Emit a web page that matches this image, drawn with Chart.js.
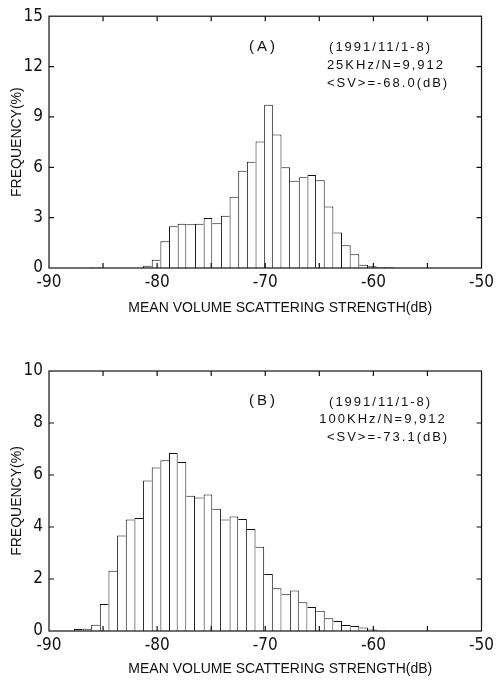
<!DOCTYPE html>
<html>
<head>
<meta charset="utf-8">
<script src="https://cdn.jsdelivr.net/npm/chart.js@4.4.1/dist/chart.umd.min.js"></script>
<style>
html, body { margin: 0; padding: 0; background: #fff; }
#wrap { position: relative; width: 498px; height: 681px; overflow: hidden; background: #fff; }
canvas { position: absolute; left: 0; }
#cA { top: 0; }
#cB { top: 330px; }
</style>
</head>
<body>
<div id="wrap">
  <canvas id="cA" width="498" height="330"></canvas>
  <canvas id="cB" width="498" height="351"></canvas>
</div>
<script>
// ---------- data ----------
// bin centres, dB (bins 0.8 dB wide)
const binsA = [-85.7, -84.9, -84.1, -83.3, -82.5, -81.7, -80.9, -80.1, -79.3, -78.5,
               -77.7, -76.9, -76.1, -75.3, -74.5, -73.7, -72.9, -72.1, -71.3, -70.5,
               -69.7, -68.9, -68.1, -67.3, -66.5, -65.7, -64.9, -64.1, -63.3, -62.5,
               -61.7, -60.9, -60.1, -59.3, -58.5, -57.7];
// frequency, % (25 kHz)
const freqA = [0.05, 0.02, 0.02, 0.02, 0.02, 0.02, 0.14, 0.49, 1.60, 2.48,
               2.63, 2.61, 2.63, 2.98, 2.67, 3.12, 4.25, 5.79, 6.33, 7.54,
               9.73, 7.95, 6.00, 5.20, 5.40, 5.54, 5.22, 3.66, 2.12, 1.36,
               0.82, 0.20, 0.10, 0.06, 0.04, 0.02];

const binsB = [-87.3, -86.5, -85.7, -84.9, -84.1, -83.3, -82.5, -81.7, -80.9, -80.1,
               -79.3, -78.5, -77.7, -76.9, -76.1, -75.3, -74.5, -73.7, -72.9, -72.1,
               -71.3, -70.5, -69.7, -68.9, -68.1, -67.3, -66.5, -65.7, -64.9, -64.1,
               -63.3, -62.5, -61.7, -60.9, -60.1, -59.3, -58.5];
// frequency, % (100 kHz)
const freqB = [0.08, 0.09, 0.24, 1.04, 2.32, 3.67, 4.29, 4.35, 5.79, 6.29,
               6.57, 6.85, 6.50, 5.20, 5.13, 5.25, 4.70, 4.29, 4.40, 4.31,
               3.92, 3.24, 2.19, 1.64, 1.41, 1.56, 1.11, 0.92, 0.78, 0.49,
               0.38, 0.23, 0.19, 0.13, 0.06, 0.02, 0.01];

const xTickLabels = [-90, -80, -70, -60, -50];
const xTickMarks  = [-85, -80, -75, -70, -65, -60, -55];
const yTicksA = [0, 3, 6, 9, 12, 15];
const yTicksB = [0, 2, 4, 6, 8, 10];

const panelA = '(A)';
const panelB = '(B)';
const notesA = ['(1991/11/1-8)', '25KHz/N=9,912', '<SV>=-68.0(dB)'];
const notesB = ['(1991/11/1-8)', '100KHz/N=9,912', '<SV>=-73.1(dB)'];
const xTitle = 'MEAN VOLUME SCATTERING STRENGTH(dB)';
const yTitle = 'FREQUENCY(%)';

// ---------- styling ----------
const INK = '#111';
const TICK_FONT = { family: "'Liberation Sans Narrow', 'DejaVu Sans Condensed', 'Liberation Sans', sans-serif", size: 17 };
const TEXT_FAMILY = "'Liberation Sans', Arial, sans-serif";

function edgeWidths(c) {
  const d = c.dataset.data;
  const i = c.dataIndex;
  const v = d[i].y;
  const prev = i > 0 ? d[i - 1].y : -1;
  const next = i < d.length - 1 ? d[i + 1].y : -1;
  return { top: 1, bottom: 0, left: prev <= v ? 1 : 0, right: next < v ? 1 : 0 };
}

const framePlugin = {
  id: 'frame',
  afterDatasetsDraw(chart, args, o) {
    const { ctx, chartArea: a, scales } = chart;
    ctx.save();
    ctx.strokeStyle = INK;
    ctx.lineWidth = 1.2;
    ctx.strokeRect(a.left, a.top, a.right - a.left, a.bottom - a.top);
    const L = 5;
    ctx.lineWidth = 1.2;
    ctx.beginPath();
    o.xMarks.forEach(v => {
      const px = scales.x.getPixelForValue(v);
      ctx.moveTo(px, a.bottom); ctx.lineTo(px, a.bottom - L);
      ctx.moveTo(px, a.top); ctx.lineTo(px, a.top + L);
    });
    o.yMarks.forEach(v => {
      const py = scales.y.getPixelForValue(v);
      ctx.moveTo(a.left, py); ctx.lineTo(a.left + L, py);
      ctx.moveTo(a.right, py); ctx.lineTo(a.right - L, py);
    });
    ctx.stroke();
    ctx.restore();
  },
  afterDraw(chart, args, o) {
    const { ctx, chartArea: a, scales } = chart;
    ctx.save();
    ctx.fillStyle = INK;
    ctx.textBaseline = 'middle';
    // panel label
    ctx.font = '15px ' + TEXT_FAMILY;
    ctx.letterSpacing = '3px';
    ctx.textAlign = 'center';
    ctx.fillText(o.panel, scales.x.getPixelForValue(o.panelX) + 1.5, a.top + o.panelDy);
    // note lines
    ctx.font = '13px ' + TEXT_FAMILY;
    ctx.letterSpacing = '2px';
    ctx.textAlign = 'left';
    o.notes.forEach((t, i) => {
      ctx.fillText(t, scales.x.getPixelForValue(o.noteX[i]), a.top + o.noteDy[i]);
    });
    // x axis title
    ctx.font = '14px ' + TEXT_FAMILY;
    ctx.letterSpacing = '0px';
    ctx.textAlign = 'center';
    ctx.fillText(xTitle, (a.left + a.right) / 2 + 15, a.bottom + o.titleDy);
    ctx.restore();
  }
};

function makeChart(id, bins, freq, yTicks, yMax, frameOpts, chartTop, chartBottom, canvasH) {
  const pts = bins.map((b, i) => ({ x: b, y: freq[i] }));
  return new Chart(document.getElementById(id), {
    type: 'bar',
    data: {
      datasets: [{
        data: pts,
        backgroundColor: '#fff',
        borderColor: INK,
        borderWidth: edgeWidths,
        borderSkipped: false,
        inflateAmount: 0,
        barPercentage: 1,
        categoryPercentage: 1
      }]
    },
    options: {
      responsive: false,
      animation: false,
      devicePixelRatio: 1,
      layout: { padding: { top: chartTop, right: 15, left: 0, bottom: 0 } },
      plugins: {
        legend: { display: false },
        tooltip: { enabled: false },
        frame: frameOpts
      },
      scales: {
        x: {
          type: 'linear',
          min: -90, max: -50,
          offset: false,
          grid: { display: false, drawTicks: false },
          border: { display: false },
          afterBuildTicks: s => { s.ticks = xTickLabels.map(v => ({ value: v })); },
          afterFit: s => { s.height = canvasH - chartBottom; },
          ticks: { color: INK, font: TICK_FONT, padding: 4, maxRotation: 0, autoSkip: false }
        },
        y: {
          min: 0, max: yMax,
          grid: { display: false, drawTicks: false },
          border: { display: false },
          afterBuildTicks: s => { s.ticks = yTicks.map(v => ({ value: v })); },
          afterFit: s => { s.width = 49; },
          ticks: { color: INK, font: TICK_FONT, padding: 6 },
          title: {
            display: true, text: yTitle, color: INK,
            font: { family: TEXT_FAMILY, size: 14 },
            padding: { top: 9, bottom: 0 }
          }
        }
      }
    },
    plugins: [framePlugin]
  });
}

makeChart('cA', binsA, freqA, yTicksA, 15, {
  xMarks: xTickMarks, yMarks: yTicksA.slice(1, -1),
  panel: panelA, panelX: -70.3, panelDy: 31,
  notes: notesA, noteX: [-64.1, -64.3, -64.3], noteDy: [31, 49, 67],
  titleDy: 40
}, 12, 268, 330);

makeChart('cB', binsB, freqB, yTicksB, 10, {
  xMarks: xTickMarks, yMarks: yTicksB.slice(1, -1),
  panel: panelB, panelX: -70.3, panelDy: 30,
  notes: notesB, noteX: [-64.1, -65.0, -64.3], noteDy: [31, 48, 66],
  titleDy: 38
}, 41, 301, 351);
</script>
</body>
</html>
